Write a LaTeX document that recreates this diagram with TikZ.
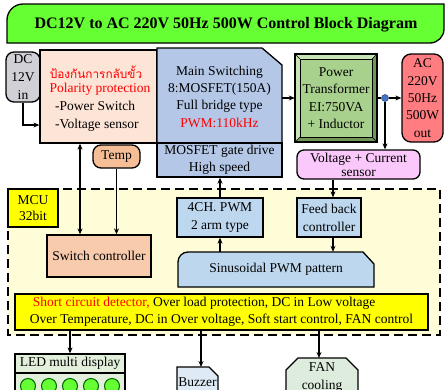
\documentclass[tikz,border=0pt]{standalone}
\usepackage{fontspec}
\setmainfont{Liberation Serif}
\newfontfamily\thaifont[Script=Thai]{Loma}
\usetikzlibrary{arrows.meta,shapes.misc,shapes.geometric}
\definecolor{tgreen}{RGB}{102,255,51}
\definecolor{dcgray}{RGB}{208,208,214}
\definecolor{peach}{RGB}{252,228,214}
\definecolor{mblue}{RGB}{180,199,231}
\definecolor{lblue}{RGB}{189,215,238}
\definecolor{trgreen}{RGB}{169,209,142}
\definecolor{trdark}{RGB}{112,150,85}
\definecolor{trlight}{RGB}{200,228,180}
\definecolor{acred}{RGB}{255,124,128}
\definecolor{spink}{RGB}{250,200,250}
\definecolor{tempc}{RGB}{246,190,150}
\definecolor{swc}{RGB}{248,203,173}
\definecolor{mcubg}{RGB}{255,253,215}
\definecolor{yel}{RGB}{255,255,0}
\definecolor{ledbg}{RGB}{226,239,218}
\definecolor{buzc}{RGB}{222,235,247}
\definecolor{fanc}{RGB}{222,236,222}
\definecolor{dotblue}{RGB}{68,114,196}
\definecolor{ledg}{RGB}{102,255,51}
\begin{document}
\begin{tikzpicture}[x=1pt,y=-1pt,
  txt/.style={align=center, inner sep=0pt, font=\fontsize{13.5}{17.3}\selectfont},
  box/.style={txt, draw=black, line width=1.3pt},
  arr/.style={-{Stealth[length=6pt,width=5pt]}, line width=1.2pt},
  darr/.style={{Stealth[length=6pt,width=5pt]}-{Stealth[length=6pt,width=5pt]}, line width=1.2pt}]
\useasboundingbox (0,0) rectangle (445,389);
\clip (0,0) rectangle (445,389);
% title
\draw[fill=tgreen, line width=1.3pt] (7,43) [rounded corners=16pt] -- (7,4) [sharp corners] -- (444,4) [rounded corners=14pt] -- (444,43) [sharp corners] -- cycle;
\node[txt, font=\bfseries\fontsize{16}{18}\selectfont] (title) at (226,25) {DC12V to AC 220V 50Hz 500W Control Block Diagram};
% MCU region
\draw[fill=mcubg, line width=1.6pt, dash pattern=on 9pt off 5pt] (8,189) rectangle (440,335);
% DC in
\node[box, fill=dcgray, rounded corners=8pt, minimum width=34pt, minimum height=50pt, font=\fontsize{13.5}{18}\selectfont] (dc) at (23,77) {DC\\12V\\in};
% polarity
\node[box, fill=peach, minimum width=117pt, minimum height=93pt] (pol) at (98.5,96.5) {};
\node[txt, text=red, font=\thaifont\fontsize{11.8}{16}\selectfont] (pol1) at (96,72) {ป้องกันการกลับขั้ว};
\node[txt, text=red] (pol2) at (100,89.5) {Polarity protection};
\node[txt, align=left, anchor=west, font=\fontsize{13.5}{18}\selectfont] (pol3) at (55,116) {-Power Switch\\-Voltage sensor};
% main switching
\draw[fill=mblue, line width=1.3pt] (157,48) -- (262,48) -- (282,65) -- (282,177) -- (157,177) -- cycle;
\node[txt, minimum width=125pt, minimum height=95pt] (main) at (219.5,96.5) {Main Switching\\8:MOSFET(150A)\\Full bridge type\\\textcolor{red}{PWM:110kHz}};
\node[box, minimum width=125pt, minimum height=34pt, font=\fontsize{13.5}{16.5}\selectfont] (gate) at (219.5,160) {MOSFET gate drive\\High speed};
% transformer
\fill[trdark] (295,54) rectangle (377,142);
\fill[trlight] (295,54) -- (377,54) -- (372,59) -- (300,59) -- (300,137) -- (295,142) -- cycle;
\draw[fill=trgreen, line width=0.8pt] (300,59) rectangle (372,137);
\draw[line width=0.6pt] (295,54) -- (300,59) (377,54) -- (372,59) (295,142) -- (300,137) (377,142) -- (372,137);
\draw[line width=1.3pt] (295,54) rectangle (377,142);
\node[txt, minimum width=82pt, minimum height=88pt] (trans) at (336,98) {Power\\Transformer\\EI:750VA\\+ Inductor};
% AC out
\node[box, fill=acred, rounded corners=9pt, minimum width=41pt, minimum height=88pt] (ac) at (422.5,98) {AC\\220V\\50Hz\\500W\\out};
\node[circle, fill=dotblue, draw=dotblue!60!black, line width=0.5pt, inner sep=0pt, minimum size=7pt] (dot) at (385,98) {};
% sensor
\node[box, fill=spink, rounded corners=7pt, minimum width=123pt, minimum height=29pt, font=\fontsize{13.5}{14}\selectfont] (sensor) at (358.5,164.5) {Voltage + Current\\sensor};
% temp
\node[box, fill=tempc, rounded corners=8pt, minimum width=47pt, minimum height=23pt] (temp) at (116.5,156.5) {Temp};
% MCU label
\node[box, fill=yel, minimum width=50pt, minimum height=38pt, font=\fontsize{13.5}{16}\selectfont] (mcu) at (33,208) {MCU\\32bit};
% switch controller
\node[box, fill=swc, minimum width=104pt, minimum height=42pt] (sw) at (99,256) {Switch controller};
% 4CH PWM
\node[box, fill=lblue, minimum width=86pt, minimum height=39pt, font=\fontsize{13.5}{18}\selectfont] (pwm) at (220,217.5) {4CH. PWM\\2 arm type};
% feedback
\node[box, fill=lblue, minimum width=64pt, minimum height=39pt, font=\fontsize{13.5}{18}\selectfont] (fb) at (329,217.5) {Feed back\\controller};
% sinusoidal
\draw[fill=lblue, line width=1.3pt] (178,287) [rounded corners=10pt] -- (178,252) [sharp corners] -- (363,252) -- (374,264) -- (374,287) -- cycle;
\node[txt, minimum width=196pt, minimum height=35pt] (sin) at (276,269.5) {Sinusoidal PWM pattern};
% protection
\node[box, fill=yel, line width=1.8pt, minimum width=413pt, minimum height=36pt, align=left, font=\fontsize{13.5}{17}\selectfont] (prot) at (221.5,312) {\hspace{3pt}\textcolor{red}{Short circuit detector,} Over load protection, DC in Low voltage\\Over Temperature, DC in Over voltage, Soft start control, FAN control};
% LED
\draw[fill=ledbg, line width=1.3pt] (15,373) rectangle (125,400);
\node[box, fill=ledbg, minimum width=110pt, minimum height=19pt] (led) at (70,363.5) {LED multi display};
\foreach \i/\x in {1/28,2/49,3/70,4/91,5/112}
  \node[circle, fill=ledg, draw=green!40!black, line width=1pt, inner sep=0pt, minimum size=15pt] (led\i) at (\x,386) {};
% buzzer
\draw[fill=buzc, line width=1.3pt] (177,400) -- (177,367) -- (209,367) -- (218,376) -- (218,400) -- cycle;
\node[txt, minimum width=41pt, minimum height=10pt] (buz) at (197.5,382) {Buzzer};
\coordinate (buztop) at (201,367);
% fan
\draw[fill=fanc, line width=1.3pt] (286,420) -- (286,370) -- (298,358) -- (346,358) -- (358,370) -- (358,420);
\node[txt, font=\fontsize{13.5}{18}\selectfont] (fan) at (322,377) {FAN\\cooling};
\coordinate (fantop) at (319,358);
% connectors
\draw[arr] (dc.south) |- ([yshift=-28.5pt]pol.west);
\draw[darr] ([xshift=-19pt]sw.north) -- ([xshift=-19pt]sw.north |- pol.south);
\draw[arr] (temp.south) -- (temp.south |- sw.north);
\draw[arr] (trans.west -| main.east) -- (trans.west);
\draw[line width=1.2pt] (trans.east) -- (dot);
\draw[arr] (dot) -- (ac.west |- dot);
\draw[arr] (dot) -- (dot |- sensor.north);
\draw[arr] ([xshift=4pt]fb.north |- sensor.south) -- ([xshift=4pt]fb.north);
\draw[arr] (pwm.north) -- (pwm.north |- gate.south);
\draw[arr] ([xshift=4pt]fb.south) -- ([xshift=4pt]fb.south |- sin.north);
\draw[arr] (pwm.south |- sin.north) -- (pwm.south);
\draw[arr] (prot.south -| led.north) -- (led.north);
\draw[arr] (prot.south -| buztop) -- (buztop);
\draw[arr] (prot.south -| fantop) -- (fantop);
\end{tikzpicture}
\end{document}
